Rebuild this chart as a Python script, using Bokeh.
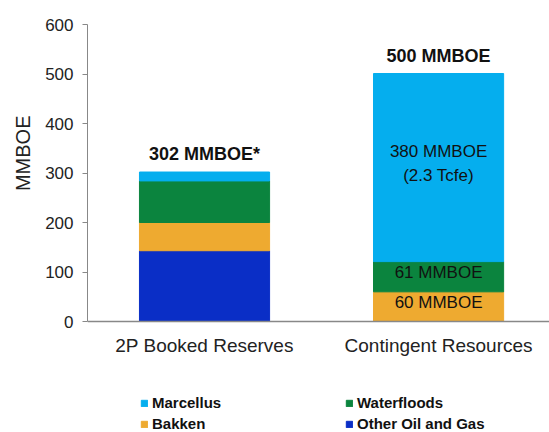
from bokeh.plotting import figure
from bokeh.models import Range1d, FixedTicker, Legend, LegendItem, ColumnDataSource, Span, Title
from bokeh.embed import file_html
from bokeh.resources import INLINE
from bokeh.core.properties import value

# ---- data ----
categories = ["2P Booked Reserves", "Contingent Resources"]
series = ["Other Oil and Gas", "Bakken", "Waterfloods", "Marcellus"]
other_oil_gas = [143, 0]
bakken = [57, 60]
waterfloods = [84, 61]
marcellus = [18, 380]
total_labels = ["302 MMBOE*", "500 MMBOE"]
segment_labels_bakken = ["", "60 MMBOE"]
segment_labels_waterfloods = ["", "61 MMBOE"]
segment_labels_marcellus = ["", "380 MMBOE\n(2.3 Tcfe)"]
y_ticks = [0, 100, 200, 300, 400, 500, 600]
y_axis_title = "MMBOE"

colors = {
    "Other Oil and Gas": "#0a2ec6",
    "Bakken": "#eeaa30",
    "Waterfloods": "#0b843e",
    "Marcellus": "#05aeee",
}

FONT = "Liberation Sans"

x = [i + 0.5 for i in range(len(categories))]
totals = [a + b + c + d for a, b, c, d in zip(other_oil_gas, bakken, waterfloods, marcellus)]

src = ColumnDataSource(dict(
    x=x,
    **{"Other Oil and Gas": other_oil_gas, "Bakken": bakken,
       "Waterfloods": waterfloods, "Marcellus": marcellus},
))

# frame extends below zero to leave room for category labels and legend
p = figure(width=549, height=432, output_backend="svg", toolbar_location=None,
           x_range=Range1d(0.0, 1.974), y_range=Range1d(-224.2, 600),
           min_border_left=87, min_border_right=0, min_border_top=24,
           min_border_bottom=0)
p.outline_line_color = None
p.xgrid.visible = False
p.ygrid.visible = False
p.background_fill_color = "white"
p.border_fill_color = "white"

renderers = p.vbar_stack(series, x="x", width=0.556, source=src,
                         fill_color=[colors[s] for s in series],
                         line_color=[colors[s] for s in series], line_width=1)

# baseline (category axis line)
p.add_layout(Span(location=0, dimension="width", line_color="#888888", line_width=1.5))

# segment labels (middle of each segment)
bak_mid = [o + b / 2 for o, b in zip(other_oil_gas, bakken)]
wf_mid = [o + b + w / 2 for o, b, w in zip(other_oil_gas, bakken, waterfloods)]
ma_mid = [o + b + w + m / 2 for o, b, w, m in zip(other_oil_gas, bakken, waterfloods, marcellus)]
lab_src = ColumnDataSource(dict(
    x=x * 3,
    y=bak_mid + wf_mid + ma_mid,
    t=segment_labels_bakken + segment_labels_waterfloods + segment_labels_marcellus,
))
p.text(x="x", y="y", text="t", source=lab_src, text_align="center",
       text_baseline="middle", y_offset=-4, text_font=value(FONT), text_font_size="17px",
       text_color="#111111", text_line_height=1.3)

tot_src = ColumnDataSource(dict(x=x, y=totals, t=total_labels))
p.text(x="x", y="y", text="t", source=tot_src, text_align="center",
       text_baseline="bottom", y_offset=-8, text_font=value(FONT),
       text_font_size="18px", text_font_style="bold", text_color="#111111")

# category labels below the baseline
cat_src = ColumnDataSource(dict(x=x, y=[0] * len(x), t=categories))
p.text(x="x", y="y", text="t", source=cat_src, text_align="center",
       text_baseline="middle", y_offset=24, text_font=value(FONT),
       text_font_size="19px", text_color="#222222")

# axes
p.xaxis.visible = False
p.yaxis.bounds = (0, 600)
p.yaxis.ticker = FixedTicker(ticks=y_ticks)
p.yaxis.minor_tick_line_color = None
p.yaxis.major_tick_in = 0
p.yaxis.major_tick_out = 5
p.yaxis.axis_line_color = "#888888"
p.yaxis.major_tick_line_color = "#888888"
p.yaxis.major_label_text_font = FONT
p.yaxis.major_label_text_font_size = "17px"
p.yaxis.major_label_text_color = "#222222"
p.yaxis.major_label_standoff = 9

# y-axis title, placed beside the 0-600 part of the axis
p.add_layout(Title(text=y_axis_title, align="right", offset=91, standoff=17,
                   text_font=FONT, text_font_size="20px", text_font_style="normal",
                   text_color="#222222"), "left")

# legend: two columns, order as in reference
by_name = dict(zip(series, renderers))
legend_order = ["Marcellus", "Waterfloods", "Bakken", "Other Oil and Gas"]
legend = Legend(items=[LegendItem(label=n, renderers=[by_name[n]]) for n in legend_order],
                orientation="horizontal", ncols=2,
                location=(53, 0),
                glyph_width=8, glyph_height=8, label_standoff=4,
                label_width=189, label_height=15, spacing=4, padding=0, margin=0,
                border_line_color=None, background_fill_alpha=0,
                label_text_font=FONT, label_text_font_size="15px",
                label_text_font_style="bold", label_text_color="#111111")
p.add_layout(legend, "center")

open("out.html", "w").write(file_html(p, INLINE))
